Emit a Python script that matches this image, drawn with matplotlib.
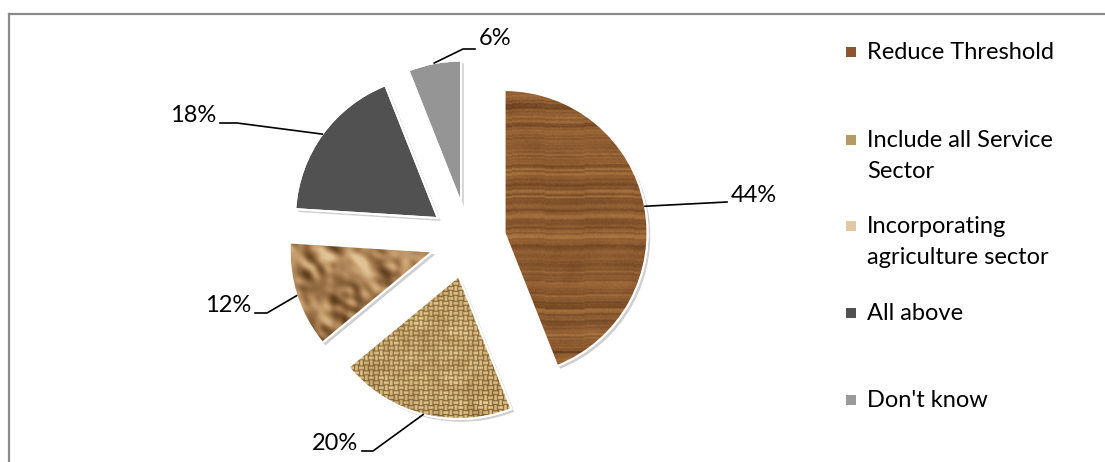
import textwrap
import numpy as np
import matplotlib
matplotlib.use('Agg')
import matplotlib.pyplot as plt
import matplotlib.patheffects as pe
from matplotlib.patches import Wedge, Rectangle
from matplotlib.lines import Line2D
from matplotlib.colors import LinearSegmentedColormap

# survey answers
categories = ['Reduce Threshold', 'Include all Service Sector',
              'Incorporating agriculture sector', 'All above', "Don't know"]
shares = [44, 20, 12, 18, 6]
pct_labels = [f'{s}%' for s in shares]

plt.rcParams['font.family'] = ['Lato', 'DejaVu Sans']

W, H = 1105, 462
CX, CY, R = 468, 240, 143   # pie centre and radius in pixels
FS = 17


def px(x, y):
    # pixel position -> data coordinates of the full-figure axes
    return (x - CX) / R, (CY - y) / R


def blur(a, sigma):
    # gaussian blur through the FFT
    h, w = a.shape
    fy = np.fft.fftfreq(h)[:, None]
    fx = np.fft.fftfreq(w)[None, :]
    g = np.exp(-2 * (np.pi * sigma) ** 2 * (fx ** 2 + fy ** 2))
    return np.real(np.fft.ifft2(np.fft.fft2(a) * g))


def wood(h, w):
    rng = np.random.default_rng(11)
    y = np.arange(h)[:, None].astype(float)
    x = np.arange(w)[None, :].astype(float)
    t = y + 1.5 * np.sin(x / 45.0) + 0.8 * np.sin(x / 17.0 + 1.0)
    rows = rng.normal(0, 1, h + 40)
    rows = 0.6 * np.convolve(rows, np.ones(2) / 2, mode='same') + \
        0.6 * np.convolve(rng.normal(0, 1, h + 40), np.ones(7) / 7, mode='same')
    idx = np.clip(t.astype(int) + 10, 0, len(rows) - 1)
    streak = blur(rng.normal(0, 1, (h, w)), 6) * 4
    v = 0.5 + 0.22 * rows[idx] + 0.10 * streak + 0.03 * rng.normal(size=(h, w))
    cmap = LinearSegmentedColormap.from_list(
        'wood', ['#4a2910', '#6e4220', '#8c5a30', '#a8743f', '#c08a52'])
    return cmap(np.clip(v, 0, 1))


def burlap(h, w):
    rng = np.random.default_rng(5)
    i = np.arange(h)[:, None]
    j = np.arange(w)[None, :]
    c = 5
    horiz = ((i // c) + (j // c)) % 2 == 0
    prof_i = np.sin(np.pi * ((i % c) + 0.5) / c)
    prof_j = np.sin(np.pi * ((j % c) + 0.5) / c)
    v = np.where(horiz, prof_i, prof_j)
    v = v * (0.85 + 0.15 * blur(rng.normal(0, 1, (h, w)), 3) * 4)
    cmap = LinearSegmentedColormap.from_list(
        'burlap', ['#5a3f22', '#94733f', '#c9a86e', '#ecd69f'])
    return cmap(np.clip(v, 0, 1))


def crumpled(h, w):
    rng = np.random.default_rng(21)
    hgt = (blur(rng.normal(0, 1, (h, w)), 13) * 10
           + blur(rng.normal(0, 1, (h, w)), 4) * 1.2)
    gy, gx = np.gradient(hgt)
    shade = gx * 0.7 - gy * 0.7
    shade = shade / (np.percentile(np.abs(shade), 98) + 1e-9)
    base = blur(rng.normal(0, 1, (h, w)), 18) * 12
    v = 0.55 + 0.45 * shade + 0.12 * base
    cmap = LinearSegmentedColormap.from_list(
        'paper', ['#3f2812', '#6e4a26', '#9a7146', '#c29a6a', '#e0c294'])
    return cmap(np.clip(v, 0, 1))


fills = ['#8b5a30', '#c9a870', '#b08a5c', '#515151', '#959595']
textures = [wood, burlap, crumpled, None, None]
swatch = ['#8a5630', '#b59a66', '#e2c9a3', '#515151', '#9a9a9a']

fig = plt.figure(figsize=(W / 100, H / 100), dpi=100)
ax = fig.add_axes([0, 0, 1, 1])

wedges, _ = ax.pie(shares, explode=[0.26] * len(shares), startangle=90,
                   counterclock=False, colors=fills,
                   wedgeprops=dict(edgecolor='white', linewidth=1.5))
ax.set_xlim(-CX / R, (W - CX) / R)
ax.set_ylim((CY - H) / R, CY / R)
ax.set_aspect('auto')
ax.axis('off')

for w, tex in zip(wedges, textures):
    w.set_path_effects([pe.SimplePatchShadow(offset=(2, -2), shadow_rgbFace='#777777', alpha=0.35),
                        pe.Normal()])
    if tex is not None:
        bb = w.get_path().get_extents(w.get_patch_transform())
        nh = int((bb.y1 - bb.y0) * R) + 2
        nw = int((bb.x1 - bb.x0) * R) + 2
        im = ax.imshow(tex(nh, nw), extent=[bb.x0, bb.x1, bb.y0, bb.y1],
                       origin='upper', interpolation='bilinear', zorder=2)
        im.set_clip_path(w)
    ax.add_patch(Wedge(w.center, w.r, w.theta1, w.theta2, fill=False,
                       edgecolor='white', linewidth=1.5, zorder=3))

# percent labels with leader lines (elbow points in pixels)
leaders = [
    ([(727, 202)], (731, 202), 'left'),
    ([(373, 451), (362, 451)], (358, 450), 'right'),
    ([(267, 313), (255, 313)], (251, 312), 'right'),
    ([(237, 123), (220, 123)], (216, 122), 'right'),
    ([(463, 49), (475, 49)], (479, 45), 'left'),
]
for w, lab, (pts, tpos, ha) in zip(wedges, pct_labels, leaders):
    m = np.deg2rad((w.theta1 + w.theta2) / 2)
    start = (w.center[0] + w.r * np.cos(m), w.center[1] + w.r * np.sin(m))
    path = [start] + [px(*p) for p in pts]
    xs, ys = zip(*path)
    ax.plot(xs, ys, color='black', linewidth=1.2, zorder=4)
    ax.text(*px(*tpos), lab, ha=ha, va='baseline', fontsize=FS, color='black', zorder=5)

# legend drawn by hand so wrapped entries line up like the original
baselines = [59, 147, 233, 320, 407]
for name, col, yb in zip(categories, swatch, baselines):
    fig.patches.append(Rectangle((846 / W, 1 - (yb - 2) / H), 10 / W, 10 / H,
                                 transform=fig.transFigure, facecolor=col,
                                 edgecolor='none'))
    for k, line in enumerate(textwrap.wrap(name, 19)):
        fig.text(867 / W, 1 - (yb + 31 * k) / H, line, ha='left', va='baseline',
                 fontsize=FS, color='black')

# chart area border
fig.lines.append(Line2D([9 / W, 9 / W], [0, 1 - 14 / H], transform=fig.transFigure,
                        color='#8a8a8a', linewidth=1.6))
fig.lines.append(Line2D([9 / W, 1], [1 - 14 / H, 1 - 14 / H], transform=fig.transFigure,
                        color='#8a8a8a', linewidth=1.6))

fig.savefig('out.png', dpi=100)
